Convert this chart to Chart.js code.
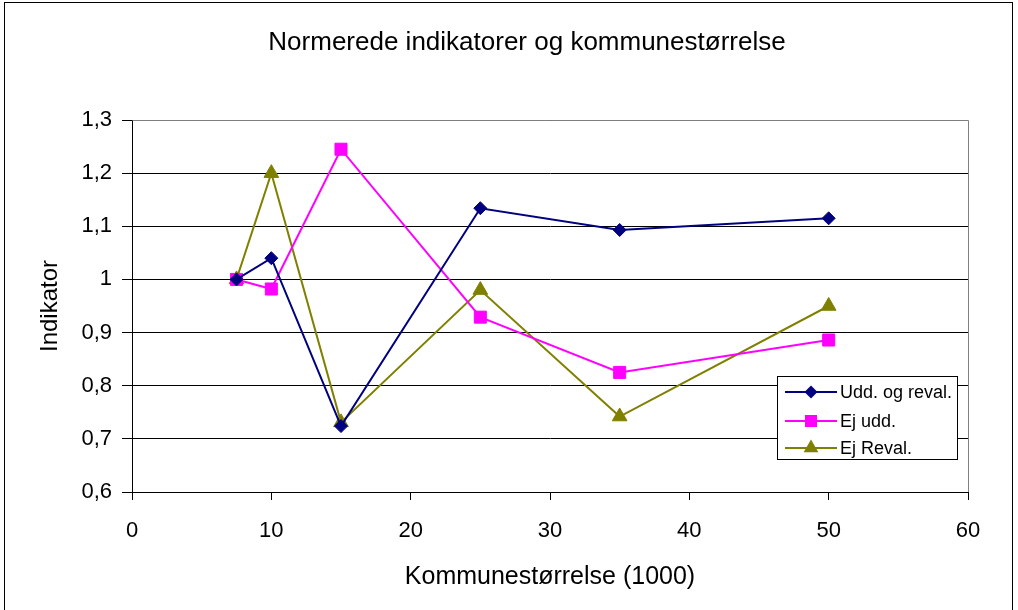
<!DOCTYPE html>
<html>
<head>
<meta charset="utf-8">
<script src="https://cdn.jsdelivr.net/npm/chart.js@4/dist/chart.umd.min.js"></script>
<style>
  html, body { margin: 0; padding: 0; background: #fff; }
  #boks { width: 1018px; height: 610px; }
</style>
</head>
<body>
<div id="boks"><canvas id="graf" width="1018" height="610"></canvas></div>
<script>
// data
const kommuneStorrelse = [7.5, 10, 15, 25, 35, 50];
const uddOgReval = [1.0, 1.04, 0.724, 1.134, 1.093, 1.115];
const ejUdd = [1.0, 0.982, 1.245, 0.929, 0.825, 0.886];
const ejReval = [1.0, 1.2, 0.731, 0.98, 0.742, 0.95];

const serieNavne = ['Udd. og reval.', 'Ej udd.', 'Ej Reval.'];
const farver = ['#000080', '#FF00FF', '#808000'];
const punktTyper = ['rectRot', 'rect', 'triangle'];
const punktRadius = [6.5, 8.5, 8.5];
const titel = 'Normerede indikatorer og kommunestørrelse';

const FONT = "'Liberation Sans', Arial, sans-serif";
Chart.defaults.color = '#000';
Chart.defaults.font.family = FONT;

function lavPunkter(vaerdier) {
  return kommuneStorrelse.map((x, i) => ({ x: x, y: vaerdier[i] }));
}

function lavSerie(i, vaerdier) {
  return {
    label: serieNavne[i],
    data: lavPunkter(vaerdier),
    borderColor: farver[i],
    backgroundColor: farver[i],
    borderWidth: 2,
    pointStyle: punktTyper[i],
    pointRadius: punktRadius[i],
    pointHoverRadius: punktRadius[i],
    pointBackgroundColor: farver[i],
    pointBorderColor: farver[i],
    pointBorderWidth: 1,
    tension: 0,
    fill: false
  };
}

// tegner et markør-symbol til forklaringen
function tegnMarkor(ctx, type, x, y, r) {
  ctx.beginPath();
  if (type === 'rectRot') {
    ctx.moveTo(x - r, y); ctx.lineTo(x, y - r); ctx.lineTo(x + r, y); ctx.lineTo(x, y + r);
  } else if (type === 'rect') {
    const s = r * Math.SQRT1_2;
    ctx.rect(x - s, y - s, 2 * s, 2 * s);
  } else {
    const h = r * 1.5, w = r * Math.sqrt(3) / 2;
    ctx.moveTo(x, y - r); ctx.lineTo(x + w, y + h - r); ctx.lineTo(x - w, y + h - r);
  }
  ctx.closePath();
  ctx.fill();
}

// ramme, titel, plotkant og forklaring
const rammePlugin = {
  id: 'ramme',
  beforeDatasetsDraw(chart) {
    const { ctx, chartArea: a } = chart;
    ctx.save();
    ctx.strokeStyle = '#808080';
    ctx.lineWidth = 1;
    ctx.beginPath();
    ctx.moveTo(Math.round(a.left) + 0.5, Math.round(a.top) + 0.5);
    ctx.lineTo(Math.round(a.right) + 0.5, Math.round(a.top) + 0.5);
    ctx.lineTo(Math.round(a.right) + 0.5, Math.round(a.bottom));
    ctx.stroke();
    ctx.restore();
  },
  afterDraw(chart) {
    const ctx = chart.ctx;
    ctx.save();
    ctx.strokeStyle = '#000';
    ctx.lineWidth = 1;
    ctx.strokeRect(4.5, 2.5, 1008, 700);

    // titel
    ctx.fillStyle = '#000';
    ctx.font = '26px ' + FONT;
    ctx.textAlign = 'center';
    ctx.textBaseline = 'middle';
    ctx.fillText(titel, 527, 43);

    // forklaring
    const bx = 777.5, by = 376.5, bw = 180, bh = 83;
    ctx.fillStyle = '#fff';
    ctx.fillRect(bx, by, bw, bh);
    ctx.strokeRect(bx, by, bw, bh);
    const rader = [392, 421, 448];
    chart.data.datasets.forEach((ds, i) => {
      const y = rader[i];
      ctx.strokeStyle = ds.borderColor;
      ctx.lineWidth = 2;
      ctx.beginPath();
      ctx.moveTo(785, y);
      ctx.lineTo(837, y);
      ctx.stroke();
      ctx.fillStyle = ds.borderColor;
      tegnMarkor(ctx, ds.pointStyle, 811, y, ds.pointRadius);
      ctx.fillStyle = '#000';
      ctx.font = '18px ' + FONT;
      ctx.textBaseline = 'middle';
      ctx.textAlign = 'left';
      ctx.fillText(ds.label, 840, y + 1);
    });
    ctx.restore();
  }
};

new Chart(document.getElementById('graf'), {
  type: 'line',
  data: {
    datasets: [
      lavSerie(0, uddOgReval),
      lavSerie(1, ejUdd),
      lavSerie(2, ejReval)
    ]
  },
  options: {
    responsive: false,
    animation: false,
    layout: { padding: { left: 0, top: 120, right: 50, bottom: 0 } },
    plugins: {
      legend: { display: false },
      tooltip: { enabled: false },
      title: { display: false }
    },
    scales: {
      x: {
        type: 'linear',
        min: 0,
        max: 60,
        ticks: { stepSize: 10, padding: 18, font: { size: 22 }, color: '#000' },
        grid: { drawOnChartArea: false, drawTicks: true, tickLength: 8, color: '#000' },
        border: { color: '#000', width: 1 },
        title: {
          display: true,
          text: 'Kommunestørrelse (1000)',
          color: '#000',
          font: { size: 25 },
          padding: { top: 0, bottom: 18 }
        },
        afterFit(scale) { scale.height = 118; }
      },
      y: {
        min: 0.6,
        max: 1.3,
        ticks: {
          stepSize: 0.1,
          padding: 10,
          font: { size: 22 },
          color: '#000',
          callback: (v) => String(Math.round(v * 10) / 10).replace('.', ',')
        },
        grid: { color: '#000', tickLength: 10, lineWidth: 1 },
        border: { color: '#000', width: 1 },
        title: {
          display: true,
          text: 'Indikator',
          color: '#000',
          font: { size: 24 },
          padding: { top: 35.6, bottom: 0 }
        },
        afterFit(scale) { scale.width = 132; }
      }
    }
  },
  plugins: [rammePlugin]
});
</script>
</body>
</html>
